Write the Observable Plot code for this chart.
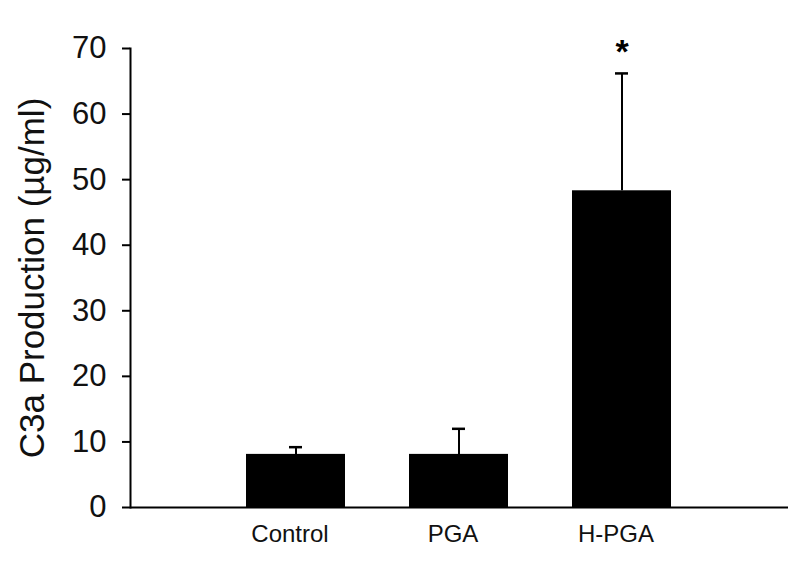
<!DOCTYPE html>
<html>
<head>
<meta charset="utf-8">
<script src="https://cdn.jsdelivr.net/npm/d3@7"></script>
<script src="https://cdn.jsdelivr.net/npm/@observablehq/plot@0.6"></script>
<style>
  html, body { margin: 0; padding: 0; background: #fff; }
  svg { display: block; }
</style>
</head>
<body>
<div id="chart"></div>
<script>
const categories = ["Control", "PGA", "H-PGA"];
const means = [8.1, 8.1, 48.3];
const errors = [1.1, 3.9, 17.9];
const significance = ["", "", "*"];
const yTicks = [0, 10, 20, 30, 40, 50, 60, 70];
const yLabel = "C3a Production (\u00b5g/ml)";

const data = categories.map((c, i) => ({
  group: c, mean: means[i], err: errors[i], top: means[i] + errors[i], sig: significance[i]
}));

const chart = Plot.plot({
  width: 800,
  height: 561,
  marginTop: 48,
  marginBottom: 54,
  marginLeft: 130,
  marginRight: 12,
  style: { fontFamily: "'Liberation Sans', Arial, sans-serif", color: "#111", background: "#fff" },
  x: { domain: categories, range: [245, 673], paddingInner: 0.39, paddingOuter: 0 },
  y: { domain: [0, 70] },
  marks: [
    Plot.barY(data, { x: "group", y: "mean", fill: "#000" }),
    Plot.ruleX(data, { x: "group", y1: "mean", y2: "top", stroke: "#000", strokeWidth: 2 }),
    Plot.tickY(data, { x: "group", y: "top", stroke: "#000", strokeWidth: 2.5, insetLeft: 43, insetRight: 43 }),
    Plot.text(data, { x: "group", y: "top", text: "sig", fontSize: 34, fontWeight: "bold", dy: -21, lineAnchor: "middle", fill: "#000" }),
    Plot.ruleY([0], { stroke: "#000", strokeWidth: 2 }),
    Plot.frame({ anchor: "left", stroke: "#000", strokeWidth: 2 }),
    Plot.axisY({ ticks: yTicks, tickSize: 8, tickPadding: 16, fontSize: 31, label: null, stroke: "#000", strokeWidth: 2 }),
    Plot.axisY({ ticks: [], label: yLabel, labelAnchor: "center", labelArrow: "none", labelOffset: 111, fontSize: 35 }),
    Plot.axisX({ tickSize: 0, tickPadding: 17, fontSize: 24, dx: -6, label: null })
  ]
});
document.getElementById("chart").appendChild(chart);
</script>
</body>
</html>
